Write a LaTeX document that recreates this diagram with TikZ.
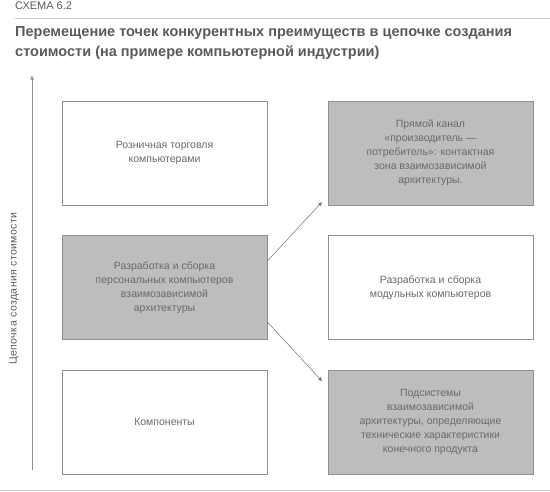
\documentclass[tikz,border=0pt]{standalone}
\usepackage{fontspec}
\setmainfont{Liberation Sans}
\newfontfamily\axisfont{Liberation Sans}[LetterSpace=4]
\usetikzlibrary{shapes,arrows}

\definecolor{boxline}{HTML}{8E8E8E}
\definecolor{boxfill}{HTML}{BDBDBD}
\definecolor{boxtextc}{HTML}{6A6A6A}
\definecolor{headc}{HTML}{5A5A5A}
\definecolor{rulec}{HTML}{CCCCCC}
\definecolor{linkc}{HTML}{707070}

\begin{document}
\begin{tikzpicture}[>=stealth',
    box/.style = {rectangle,
          draw = boxline,
          line width = 0.6pt,
          minimum width = 7.205cm,
          minimum height = 3.655cm},
    shaded/.style = {box, fill = boxfill},
    boxtext/.style = {align = center,
          text = boxtextc,
          font = \fontsize{10.5}{14}\selectfont},
    link/.style = {->, draw = linkc, line width = 0.5pt}]

    \useasboundingbox (0,0) rectangle (19.33,-17.257);

    % header
    \node[anchor = west,
          inner sep = 0pt,
          text = headc,
          font = \fontsize{11}{13}\selectfont] (Scheme) at (0.527,-0.21) {СХЕМА 6.2};
    \draw[rulec, line width = 0.6pt] (0.527,-0.633) -- (19.33,-0.633);
    \node[anchor = base west,
          inner sep = 0pt,
          align = left,
          text = headc,
          font = \fontsize{14.5}{20}\selectfont\bfseries] (Title) at (0.527,-2.003)
          {Перемещение точек конкурентных преимуществ в цепочке создания\\
           стоимости (на примере компьютерной индустрии)};

    % value chain axis
    \coordinate (AxisLow) at (1.125,-16.519);
    \coordinate (AxisTop) at (1.125,-2.671);
    \draw[link, draw = boxline] (AxisLow) -- (AxisTop);
    \node[rotate = 90,
          text = headc,
          font = \axisfont\fontsize{10.5}{12}\selectfont] (AxisLabel) at (0.49,-10.14) {Цепочка создания стоимости};

    % left column
    \node[box] (Retail) at (5.782,-5.377) {};
    \node[boxtext] at (Retail.center) {Розничная торговля\\компьютерами};

    \node[shaded] (DevPC) at (5.782,-10.105) {};
    \node[boxtext] at (DevPC.center) {Разработка и сборка\\персональных компьютеров\\взаимозависимой\\архитектуры};

    \node[box] (Comp) at (5.782,-14.832) {};
    \node[boxtext] at (Comp.center) {Компоненты};

    % right column
    \node[shaded] (Direct) at (15.130,-5.377) {};
    \node[boxtext] at (Direct.center) {Прямой канал\\«производитель —\\потребитель»: контактная\\зона взаимозависимой\\архитектуры.};

    \node[box] (DevMod) at (15.130,-10.105) {};
    \node[boxtext] at (DevMod.center) {Разработка и сборка\\модульных компьютеров};

    \node[shaded] (Subsys) at (15.130,-14.832) {};
    \node[boxtext] at (Subsys.center) {Подсистемы\\взаимозависимой\\архитектуры, определяющие\\технические характеристики\\конечного продукта};

    % shifts
    \draw[link] ([yshift = 0.93cm]DevPC.east) -- ([xshift = -0.21cm, yshift = 0.105cm]Direct.south west);
    \draw[link] ([yshift = -1.21cm]DevPC.east) -- ([xshift = -0.21cm, yshift = -0.39cm]Subsys.north west);

    \draw[rulec, line width = 0.8pt] (0,-17.222) -- (19.33,-17.222);

\end{tikzpicture}
\end{document}
